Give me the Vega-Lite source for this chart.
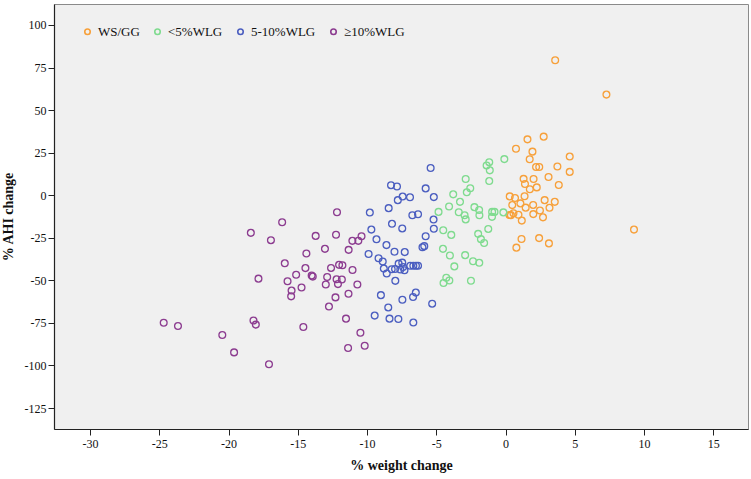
{
  "$schema": "https://vega.github.io/schema/vega-lite/v6.json",
  "width": 694,
  "height": 425,
  "autosize": {"type": "none"},
  "padding": {"left": 54, "top": 4, "right": 3, "bottom": 50},
  "background": "#ffffff",
  "config": {
    "view": {"fill": "#f0f0f0", "stroke": "#8a8a8a", "strokeWidth": 1},
    "axis": {
      "labelFont": "Liberation Serif",
      "labelFontSize": 12,
      "labelColor": "#111111",
      "titleFont": "Liberation Serif",
      "titleFontSize": 14,
      "titleFontWeight": "bold",
      "titleColor": "#111111",
      "domainColor": "#222222",
      "domainWidth": 1.2,
      "tickColor": "#222222",
      "tickSize": 6,
      "grid": false
    },
    "legend": {
      "labelFont": "Liberation Serif",
      "labelFontSize": 13,
      "labelColor": "#111111"
    }
  },
  "data": {
    "values": [
      {"group": "WS/GG", "weight": 3.58, "ahi": 79.3},
      {"group": "WS/GG", "weight": 7.28, "ahi": 59.1},
      {"group": "WS/GG", "weight": 1.58, "ahi": 32.8},
      {"group": "WS/GG", "weight": 2.75, "ahi": 34.4},
      {"group": "WS/GG", "weight": 0.75, "ahi": 27.3},
      {"group": "WS/GG", "weight": 1.94, "ahi": 25.6},
      {"group": "WS/GG", "weight": 1.74, "ahi": 21.1},
      {"group": "WS/GG", "weight": 4.63, "ahi": 22.7},
      {"group": "WS/GG", "weight": 2.2, "ahi": 16.6},
      {"group": "WS/GG", "weight": 2.43, "ahi": 16.6},
      {"group": "WS/GG", "weight": 3.74, "ahi": 16.9},
      {"group": "WS/GG", "weight": 4.63, "ahi": 13.7},
      {"group": "WS/GG", "weight": 3.1, "ahi": 10.7},
      {"group": "WS/GG", "weight": 1.3, "ahi": 9.6},
      {"group": "WS/GG", "weight": 2.02, "ahi": 9.5},
      {"group": "WS/GG", "weight": 1.4, "ahi": 6.6},
      {"group": "WS/GG", "weight": 3.84, "ahi": 6.0},
      {"group": "WS/GG", "weight": 1.75, "ahi": 3.5},
      {"group": "WS/GG", "weight": 2.25, "ahi": 4.6},
      {"group": "WS/GG", "weight": 0.3, "ahi": -0.7},
      {"group": "WS/GG", "weight": 0.68, "ahi": -1.6},
      {"group": "WS/GG", "weight": 1.37, "ahi": -0.6},
      {"group": "WS/GG", "weight": 2.82, "ahi": -2.9},
      {"group": "WS/GG", "weight": 3.55, "ahi": -3.9},
      {"group": "WS/GG", "weight": 0.48, "ahi": -5.8},
      {"group": "WS/GG", "weight": 1.07, "ahi": -4.8},
      {"group": "WS/GG", "weight": 1.99, "ahi": -5.7},
      {"group": "WS/GG", "weight": 1.45, "ahi": -7.3},
      {"group": "WS/GG", "weight": 3.17, "ahi": -7.4},
      {"group": "WS/GG", "weight": 2.48, "ahi": -9.0},
      {"group": "WS/GG", "weight": 0.28, "ahi": -11.6},
      {"group": "WS/GG", "weight": 0.38, "ahi": -11.7},
      {"group": "WS/GG", "weight": 0.57, "ahi": -10.6},
      {"group": "WS/GG", "weight": 0.93, "ahi": -11.5},
      {"group": "WS/GG", "weight": 2.0, "ahi": -11.1},
      {"group": "WS/GG", "weight": 2.7, "ahi": -13.0},
      {"group": "WS/GG", "weight": 1.17, "ahi": -14.9},
      {"group": "WS/GG", "weight": 9.27, "ahi": -20.2},
      {"group": "WS/GG", "weight": 1.15, "ahi": -25.7},
      {"group": "WS/GG", "weight": 2.42, "ahi": -25.2},
      {"group": "WS/GG", "weight": 3.13, "ahi": -28.3},
      {"group": "WS/GG", "weight": 0.78, "ahi": -30.8},

      {"group": "<5%WLG", "weight": -0.09, "ahi": 21.2},
      {"group": "<5%WLG", "weight": -1.18, "ahi": 19.4},
      {"group": "<5%WLG", "weight": -1.37, "ahi": 17.5},
      {"group": "<5%WLG", "weight": -1.14, "ahi": 14.6},
      {"group": "<5%WLG", "weight": -1.18, "ahi": 8.3},
      {"group": "<5%WLG", "weight": -2.88, "ahi": 9.5},
      {"group": "<5%WLG", "weight": -2.55, "ahi": 4.1},
      {"group": "<5%WLG", "weight": -2.8, "ahi": 1.7},
      {"group": "<5%WLG", "weight": -3.78, "ahi": 0.5},
      {"group": "<5%WLG", "weight": -3.29, "ahi": -3.9},
      {"group": "<5%WLG", "weight": -4.08, "ahi": -6.6},
      {"group": "<5%WLG", "weight": -2.25, "ahi": -7.0},
      {"group": "<5%WLG", "weight": -1.91, "ahi": -8.7},
      {"group": "<5%WLG", "weight": -1.89, "ahi": -11.8},
      {"group": "<5%WLG", "weight": -4.84, "ahi": -9.8},
      {"group": "<5%WLG", "weight": -3.38, "ahi": -10.0},
      {"group": "<5%WLG", "weight": -2.96, "ahi": -11.8},
      {"group": "<5%WLG", "weight": -2.88, "ahi": -14.2},
      {"group": "<5%WLG", "weight": -0.97, "ahi": -9.8},
      {"group": "<5%WLG", "weight": -0.8, "ahi": -9.8},
      {"group": "<5%WLG", "weight": -0.98, "ahi": -12.7},
      {"group": "<5%WLG", "weight": -0.16, "ahi": -10.1},
      {"group": "<5%WLG", "weight": -1.25, "ahi": -19.8},
      {"group": "<5%WLG", "weight": -4.5, "ahi": -20.6},
      {"group": "<5%WLG", "weight": -3.92, "ahi": -23.3},
      {"group": "<5%WLG", "weight": -1.98, "ahi": -22.7},
      {"group": "<5%WLG", "weight": -1.78, "ahi": -25.8},
      {"group": "<5%WLG", "weight": -1.55, "ahi": -28.1},
      {"group": "<5%WLG", "weight": -4.52, "ahi": -31.5},
      {"group": "<5%WLG", "weight": -4.02, "ahi": -35.4},
      {"group": "<5%WLG", "weight": -2.92, "ahi": -35.2},
      {"group": "<5%WLG", "weight": -3.7, "ahi": -41.8},
      {"group": "<5%WLG", "weight": -2.35, "ahi": -38.8},
      {"group": "<5%WLG", "weight": -1.9, "ahi": -39.7},
      {"group": "<5%WLG", "weight": -4.28, "ahi": -48.5},
      {"group": "<5%WLG", "weight": -4.06, "ahi": -50.1},
      {"group": "<5%WLG", "weight": -4.48, "ahi": -51.6},
      {"group": "<5%WLG", "weight": -2.5, "ahi": -50.2},

      {"group": "5-10%WLG", "weight": -5.41, "ahi": 16.0},
      {"group": "5-10%WLG", "weight": -8.27, "ahi": 5.9},
      {"group": "5-10%WLG", "weight": -7.84, "ahi": 5.1},
      {"group": "5-10%WLG", "weight": -5.77, "ahi": 4.0},
      {"group": "5-10%WLG", "weight": -7.43, "ahi": -0.8},
      {"group": "5-10%WLG", "weight": -6.9, "ahi": -1.2},
      {"group": "5-10%WLG", "weight": -7.78, "ahi": -2.9},
      {"group": "5-10%WLG", "weight": -5.18, "ahi": -1.1},
      {"group": "5-10%WLG", "weight": -8.44, "ahi": -7.6},
      {"group": "5-10%WLG", "weight": -9.8, "ahi": -10.2},
      {"group": "5-10%WLG", "weight": -6.73, "ahi": -11.8},
      {"group": "5-10%WLG", "weight": -6.32, "ahi": -11.2},
      {"group": "5-10%WLG", "weight": -5.2, "ahi": -14.3},
      {"group": "5-10%WLG", "weight": -8.2, "ahi": -16.8},
      {"group": "5-10%WLG", "weight": -9.69, "ahi": -20.2},
      {"group": "5-10%WLG", "weight": -7.46, "ahi": -19.5},
      {"group": "5-10%WLG", "weight": -5.18, "ahi": -19.7},
      {"group": "5-10%WLG", "weight": -5.77, "ahi": -24.1},
      {"group": "5-10%WLG", "weight": -9.32, "ahi": -25.9},
      {"group": "5-10%WLG", "weight": -8.6, "ahi": -29.3},
      {"group": "5-10%WLG", "weight": -5.87, "ahi": -29.9},
      {"group": "5-10%WLG", "weight": -6.0, "ahi": -30.6},
      {"group": "5-10%WLG", "weight": -9.89, "ahi": -34.5},
      {"group": "5-10%WLG", "weight": -8.02, "ahi": -33.2},
      {"group": "5-10%WLG", "weight": -7.28, "ahi": -33.4},
      {"group": "5-10%WLG", "weight": -9.17, "ahi": -37.0},
      {"group": "5-10%WLG", "weight": -8.87, "ahi": -38.9},
      {"group": "5-10%WLG", "weight": -8.79, "ahi": -43.1},
      {"group": "5-10%WLG", "weight": -8.58, "ahi": -46.0},
      {"group": "5-10%WLG", "weight": -8.22, "ahi": -43.5},
      {"group": "5-10%WLG", "weight": -7.98, "ahi": -43.3},
      {"group": "5-10%WLG", "weight": -7.72, "ahi": -40.2},
      {"group": "5-10%WLG", "weight": -7.46, "ahi": -39.6},
      {"group": "5-10%WLG", "weight": -7.4, "ahi": -42.2},
      {"group": "5-10%WLG", "weight": -7.6, "ahi": -43.6},
      {"group": "5-10%WLG", "weight": -7.3, "ahi": -44.1},
      {"group": "5-10%WLG", "weight": -6.88, "ahi": -41.4},
      {"group": "5-10%WLG", "weight": -6.66, "ahi": -41.4},
      {"group": "5-10%WLG", "weight": -6.47, "ahi": -41.4},
      {"group": "5-10%WLG", "weight": -6.32, "ahi": -41.4},
      {"group": "5-10%WLG", "weight": -7.96, "ahi": -50.3},
      {"group": "5-10%WLG", "weight": -9.0, "ahi": -58.7},
      {"group": "5-10%WLG", "weight": -6.48, "ahi": -57.2},
      {"group": "5-10%WLG", "weight": -6.68, "ahi": -59.8},
      {"group": "5-10%WLG", "weight": -7.45, "ahi": -61.4},
      {"group": "5-10%WLG", "weight": -5.3, "ahi": -63.7},
      {"group": "5-10%WLG", "weight": -8.47, "ahi": -65.9},
      {"group": "5-10%WLG", "weight": -9.45, "ahi": -70.7},
      {"group": "5-10%WLG", "weight": -8.38, "ahi": -72.5},
      {"group": "5-10%WLG", "weight": -7.74, "ahi": -72.7},
      {"group": "5-10%WLG", "weight": -6.66, "ahi": -74.8},

      {"group": "≥10%WLG", "weight": -12.17, "ahi": -10.0},
      {"group": "≥10%WLG", "weight": -16.13, "ahi": -15.9},
      {"group": "≥10%WLG", "weight": -18.39, "ahi": -22.1},
      {"group": "≥10%WLG", "weight": -16.94, "ahi": -26.4},
      {"group": "≥10%WLG", "weight": -13.71, "ahi": -23.9},
      {"group": "≥10%WLG", "weight": -12.24, "ahi": -23.2},
      {"group": "≥10%WLG", "weight": -11.06, "ahi": -26.8},
      {"group": "≥10%WLG", "weight": -10.63, "ahi": -26.8},
      {"group": "≥10%WLG", "weight": -10.4, "ahi": -24.1},
      {"group": "≥10%WLG", "weight": -13.04, "ahi": -31.5},
      {"group": "≥10%WLG", "weight": -11.33, "ahi": -32.1},
      {"group": "≥10%WLG", "weight": -14.38, "ahi": -34.2},
      {"group": "≥10%WLG", "weight": -15.94, "ahi": -40.0},
      {"group": "≥10%WLG", "weight": -14.45, "ahi": -42.8},
      {"group": "≥10%WLG", "weight": -12.6, "ahi": -42.7},
      {"group": "≥10%WLG", "weight": -12.02, "ahi": -40.9},
      {"group": "≥10%WLG", "weight": -11.78, "ahi": -41.1},
      {"group": "≥10%WLG", "weight": -11.05, "ahi": -43.9},
      {"group": "≥10%WLG", "weight": -15.12, "ahi": -46.7},
      {"group": "≥10%WLG", "weight": -14.0, "ahi": -47.2},
      {"group": "≥10%WLG", "weight": -13.92, "ahi": -47.8},
      {"group": "≥10%WLG", "weight": -12.88, "ahi": -48.0},
      {"group": "≥10%WLG", "weight": -12.2, "ahi": -49.4},
      {"group": "≥10%WLG", "weight": -11.82, "ahi": -49.5},
      {"group": "≥10%WLG", "weight": -17.84, "ahi": -49.0},
      {"group": "≥10%WLG", "weight": -15.74, "ahi": -50.5},
      {"group": "≥10%WLG", "weight": -12.98, "ahi": -52.4},
      {"group": "≥10%WLG", "weight": -12.1, "ahi": -52.2},
      {"group": "≥10%WLG", "weight": -10.7, "ahi": -52.4},
      {"group": "≥10%WLG", "weight": -14.73, "ahi": -54.2},
      {"group": "≥10%WLG", "weight": -15.45, "ahi": -56.0},
      {"group": "≥10%WLG", "weight": -15.48, "ahi": -59.4},
      {"group": "≥10%WLG", "weight": -12.28, "ahi": -60.0},
      {"group": "≥10%WLG", "weight": -11.34, "ahi": -57.9},
      {"group": "≥10%WLG", "weight": -12.75, "ahi": -65.4},
      {"group": "≥10%WLG", "weight": -24.68, "ahi": -74.9},
      {"group": "≥10%WLG", "weight": -23.65, "ahi": -76.8},
      {"group": "≥10%WLG", "weight": -18.2, "ahi": -73.6},
      {"group": "≥10%WLG", "weight": -18.03, "ahi": -76.0},
      {"group": "≥10%WLG", "weight": -14.6, "ahi": -77.4},
      {"group": "≥10%WLG", "weight": -11.52, "ahi": -72.5},
      {"group": "≥10%WLG", "weight": -20.45, "ahi": -82.1},
      {"group": "≥10%WLG", "weight": -10.48, "ahi": -80.8},
      {"group": "≥10%WLG", "weight": -10.17, "ahi": -88.4},
      {"group": "≥10%WLG", "weight": -11.37, "ahi": -89.7},
      {"group": "≥10%WLG", "weight": -19.6, "ahi": -92.3},
      {"group": "≥10%WLG", "weight": -17.08, "ahi": -99.3}
    ]
  },
  "mark": {"type": "point", "shape": "circle", "filled": false, "size": 46, "strokeWidth": 1.3, "opacity": 1},
  "encoding": {
    "x": {
      "field": "weight",
      "type": "quantitative",
      "title": "% weight change",
      "scale": {"domain": [-32.6, 17.5], "nice": false, "zero": false},
      "axis": {"values": [-30, -25, -20, -15, -10, -5, 0, 5, 10, 15], "labelPadding": 3, "titlePadding": 9, "labelExpr": "'' + datum.value"}
    },
    "y": {
      "field": "ahi",
      "type": "quantitative",
      "title": "% AHI change",
      "scale": {"domain": [-137.3, 112.3], "nice": false, "zero": false},
      "axis": {"values": [-125, -100, -75, -50, -25, 0, 25, 50, 75, 100], "labelPadding": 2, "titlePadding": 9, "labelExpr": "'' + datum.value"}
    },
    "color": {
      "field": "group",
      "type": "nominal",
      "scale": {
        "domain": ["WS/GG", "<5%WLG", "5-10%WLG", "≥10%WLG"],
        "range": ["#f7a03a", "#7fdb8f", "#4b5ec0", "#8c3c90"]
      },
      "legend": {
        "title": null,
        "orient": "none",
        "legendX": 27,
        "legendY": 21,
        "direction": "horizontal",
        "padding": 0,
        "symbolType": "circle",
        "symbolSize": 30,
        "symbolStrokeWidth": 1.6,
        "symbolFillColor": "transparent",
        "labelOffset": 4,
        "columnPadding": 11
      }
    }
  }
}
